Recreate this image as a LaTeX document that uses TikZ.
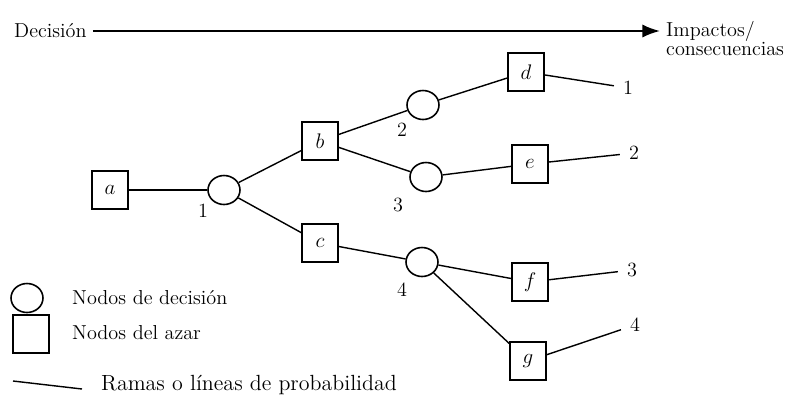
\documentclass[tikz,border=0pt]{standalone}
\usepackage{tikz}
\usetikzlibrary{arrows.meta,shapes.geometric,positioning}

\begin{document}
\begin{tikzpicture}[x=0.02cm,y=-0.02cm,
  font=\fontsize{11.5}{13}\selectfont,
  box/.style={draw,line width=0.9pt,minimum width=0.72cm,
              minimum height=0.76cm,inner sep=0pt},
  circ/.style={draw,ellipse,line width=0.9pt,minimum width=0.64cm,
               minimum height=0.58cm,inner sep=0pt},
  rama/.style={line width=0.8pt},
  arr/.style={-{Latex[length=10pt,width=7.5pt]},line width=1.2pt},
  num/.style={inner sep=1pt},
  fin/.style={inner sep=5pt}]
\useasboundingbox (0,0) rectangle (787,403);
% Time axis on top
\node[anchor=west](dec) at (8,31) {Decisión};
\node[anchor=west](imp) at (660,31) {Impactos/};
\node[anchor=west](cons) at (660,49) {consecuencias};
\draw[arr](dec)--(imp);
% Tree
\node[box](a) at (110,190) {$a$};
\node[circ](n1) at (224,190) {};
\node[box](b) at (320,141) {$b$};
\node[box](c) at (320,243) {$c$};
\node[circ](n2) at (423,105) {};
\node[circ](n3) at (426,177) {};
\node[circ](n4) at (422,262) {};
\node[box](d) at (526,72) {$d$};
\node[box](e) at (530,164) {$e$};
\node[box](f) at (530,282) {$f$};
\node[box](g) at (528,361) {$g$};
\draw[rama](a)--(n1); \draw[rama](n1)--(b); \draw[rama](n1)--(c);
\draw[rama](b)--(n2); \draw[rama](b)--(n3); \draw[rama](c)--(n4);
\draw[rama](n2)--(d); \draw[rama](n3)--(e);
\draw[rama](n4)--(f); \draw[rama](n4)--(g);
% Numbers under decision nodes
\node[num](l1) at (203,211) {1};
\node[num](l2) at (402,130) {2};
\node[num](l3) at (398,205) {3};
\node[num](l4) at (402,290) {4};
% Outcomes on the right
\node[fin](o1) at (628,88) {1};
\node[fin](o2) at (634,153) {2};
\node[fin](o3) at (632,270) {3};
\node[fin](o4) at (635,325) {4};
\draw[rama](d)--(o1); \draw[rama](e)--(o2);
\draw[rama](f)--(o3); \draw[rama](g)--(o4);
% Legend below
\node[circ](lc) at (27,298) {};
\node[anchor=west](lct) at (66,298) {Nodos de decisión};
\node[box](lb) at (31,334) {};
\node[anchor=west](lbt) at (66,333) {Nodos del azar};
\coordinate (r1) at (13,381);
\coordinate (r2) at (82,389);
\draw[rama](r1)--(r2);
\node[anchor=west,font=\fontsize{12.5}{14}\selectfont](lrt) at (95,385)
  {Ramas o líneas de probabilidad};
\end{tikzpicture}
\end{document}
